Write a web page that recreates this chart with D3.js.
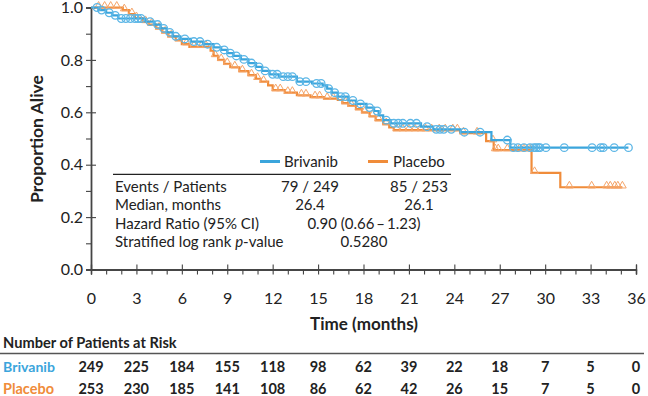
<!DOCTYPE html>
<html>
<head>
<meta charset="utf-8">
<script src="https://cdn.jsdelivr.net/npm/d3@7"></script>
<style>
  body { margin: 0; background: #fff; }
  svg { display: block; font-family: Lato, "Noto Sans", sans-serif; }
</style>
</head>
<body>
<svg id="chart" width="648" height="396"></svg>
<script>
// Kaplan-Meier step points (time in months, proportion alive)
const brivanibTimes = [0, 0.5, 1.0, 1.4, 1.8, 3.6, 4.2, 4.6, 5.0, 5.4, 5.9, 6.6, 7.4, 8.1, 8.6, 9.0, 9.4, 9.9, 10.4, 10.9, 11.3, 11.8, 12.4, 13.6, 14.6, 15.3, 15.6, 15.9, 16.3, 17.0, 17.5, 18.2, 18.7, 19.0, 19.3, 19.8, 21.8, 22.6, 24.4, 26.45, 27.7, 35.5];
const brivanibSurv  = [1.0, 0.99, 0.98, 0.97, 0.958, 0.946, 0.935, 0.92, 0.905, 0.89, 0.88, 0.87, 0.86, 0.848, 0.838, 0.826, 0.815, 0.802, 0.788, 0.773, 0.758, 0.745, 0.736, 0.717, 0.71, 0.703, 0.69, 0.675, 0.66, 0.645, 0.632, 0.618, 0.605, 0.588, 0.57, 0.558, 0.545, 0.535, 0.524, 0.494, 0.465, 0.465];
const placeboTimes  = [0, 2.1, 2.5, 2.9, 3.4, 3.8, 4.3, 4.7, 5.1, 5.6, 6.0, 6.5, 7.9, 8.1, 8.4, 8.8, 9.2, 9.8, 10.4, 10.9, 11.2, 11.7, 12.0, 12.8, 13.6, 14.5, 15.4, 16.3, 16.6, 17.0, 17.5, 17.9, 18.4, 18.8, 19.3, 19.7, 20.0, 24.4, 26.1, 26.6, 29.1, 31.0, 35.1];
const placeboSurv   = [1.0, 0.99, 0.975, 0.96, 0.945, 0.935, 0.92, 0.905, 0.89, 0.875, 0.86, 0.85, 0.835, 0.815, 0.8, 0.785, 0.772, 0.757, 0.742, 0.728, 0.717, 0.703, 0.685, 0.675, 0.665, 0.658, 0.652, 0.647, 0.635, 0.625, 0.612, 0.6, 0.585, 0.57, 0.555, 0.542, 0.532, 0.52, 0.49, 0.456, 0.369, 0.314, 0.314];

// censored observations (months)
const brivanibCensored = [0.4, 0.7, 1.2, 1.6, 2.0, 2.3, 2.6, 2.9, 3.1, 3.3, 3.9, 4.4, 4.8, 5.2, 5.6, 6.2, 6.8, 7.2, 7.7, 8.3, 8.8, 9.2, 9.6, 10.1, 10.6, 11.1, 11.5, 12.0, 12.3, 12.7, 13.0, 13.3, 13.8, 14.2, 14.9, 15.2, 15.7, 16.1, 16.5, 16.8, 17.3, 17.8, 18.4, 18.9, 19.5, 20.0, 20.3, 20.6, 21.1, 21.5, 22.2, 22.8, 23.05, 23.3, 23.8, 24.66, 25.7, 27.5, 27.9, 28.2, 28.6, 29.0, 29.26, 29.4, 29.55, 29.66, 30.05, 31.26, 33.1, 33.67, 33.84, 34.56, 35.5];
const placeboCensored  = [0.5, 0.9, 1.3, 1.7, 2.2, 2.7, 3.0, 3.6, 4.0, 4.5, 4.9, 5.3, 5.8, 6.3, 6.8, 7.3, 7.6, 8.2, 8.6, 9.0, 9.5, 10.0, 10.6, 11.0, 11.4, 12.2, 12.5, 13.0, 13.3, 13.9, 14.2, 14.8, 15.1, 15.6, 16.0, 16.8, 17.2, 17.7, 18.1, 18.6, 19.0, 19.5, 20.2, 20.6, 21.0, 21.4, 21.8, 22.1, 22.5, 23.0, 23.4, 23.9, 24.2, 24.6, 25.5, 26.55, 26.7, 26.9, 27.5, 28.3, 28.6, 29.0, 29.3, 31.6, 33.07, 34.06, 34.3, 34.6, 34.8, 35.1];

// ticks and risk table
const xTicks = [0, 3, 6, 9, 12, 15, 18, 21, 24, 27, 30, 33, 36];
const yTicks = [0, 0.2, 0.4, 0.6, 0.8, 1.0];
const brivanibAtRisk = [249, 225, 184, 155, 118, 98, 62, 39, 22, 18, 7, 5, 0];
const placeboAtRisk  = [253, 230, 185, 141, 108, 86, 62, 42, 26, 15, 7, 5, 0];

const statLabels = ['Events / Patients', 'Median, months', 'Hazard Ratio (95% CI)', 'Stratified log rank '];
const brivanibStats = ['79 / 249', '26.4'];
const placeboStats  = ['85 / 253', '26.1'];
const sharedStats   = ['0.90 (0.66\u2009\u2013\u20091.23)', '0.5280'];

const blue = '#3ba5dc', orange = '#f08c3a';
const blueMark = '#5cb6e6', orangeMark = '#f5a56a';

const svg = d3.select('#chart');
const x = d3.scaleLinear().domain([0, 36]).range([91, 636]);
const y = d3.scaleLinear().domain([0, 1]).range([269.5, 7.5]);

// scale a text's font so that it takes the given width (the reference uses a narrow font)
function fitWidth(sel, w) {
  const fs = parseFloat(sel.attr('font-size'));
  const len = sel.node().getComputedTextLength();
  if (len > 0) sel.attr('font-size', fs * w / len);
  return sel;
}

// axes: major ticks cross the axis line, minor ticks point outward
const axisColor = '#444';
const yMinor = [0.1, 0.3, 0.5, 0.7, 0.9];
const xMinor = d3.range(0, 37).filter(d => d % 3 !== 0);

svg.append('g').attr('transform', 'translate(' + x(0) + ',0)')
  .call(d3.axisLeft(y).tickValues(yTicks).tickSize(5).tickPadding(3).tickFormat(d3.format('.1f')));
svg.append('g').attr('transform', 'translate(' + x(0) + ',0)')
  .call(d3.axisRight(y).tickValues(yTicks).tickSize(5).tickFormat(''));
svg.append('g').attr('transform', 'translate(' + x(0) + ',0)')
  .call(d3.axisLeft(y).tickValues(yMinor).tickSize(5).tickFormat(''));

svg.append('g').attr('transform', 'translate(0,' + y(0) + ')')
  .call(d3.axisBottom(x).tickValues(xTicks).tickSize(5).tickPadding(18));
svg.append('g').attr('transform', 'translate(0,' + y(0) + ')')
  .call(d3.axisTop(x).tickValues(xTicks).tickSize(5).tickFormat(''));
svg.append('g').attr('transform', 'translate(0,' + y(0) + ')')
  .call(d3.axisBottom(x).tickValues(xMinor).tickSize(5).tickFormat(''));

svg.selectAll('.domain').attr('stroke', axisColor).attr('stroke-width', 1.3);
svg.selectAll('.tick line').attr('stroke', axisColor).attr('stroke-width', 1.1);
svg.selectAll('.tick text').attr('font-size', 16).attr('fill', '#222')
  .attr('font-family', 'Lato, "Noto Sans", sans-serif');

// axis titles
fitWidth(svg.append('text')
  .attr('transform', 'translate(43,139) rotate(-90)')
  .attr('text-anchor', 'middle')
  .attr('font-size', 15).attr('font-weight', 'bold').attr('fill', '#222')
  .text('Proportion Alive'), 128);
fitWidth(svg.append('text')
  .attr('x', 364).attr('y', 330)
  .attr('text-anchor', 'middle')
  .attr('font-size', 15).attr('font-weight', 'bold').attr('fill', '#222')
  .text('Time (months)'), 108);

// survival curves
function stepAt(times, surv, t) {
  const i = d3.bisectRight(times, t) - 1;
  return surv[Math.max(0, i)];
}

const line = d3.line().x(d => x(d[0])).y(d => y(d[1])).curve(d3.curveStepAfter);

function drawCensored(times, surv, cens, color, shape) {
  const g = svg.append('g');
  cens.forEach(t => {
    const cx = x(t), cy = y(stepAt(times, surv, t));
    if (shape === 'circle') {
      g.append('circle').attr('cx', cx).attr('cy', cy).attr('r', 3.8)
        .attr('fill', 'none').attr('stroke', color).attr('stroke-width', 1.3);
    } else {
      g.append('path')
        .attr('d', d3.symbol().type(d3.symbolTriangle).size(26)())
        .attr('transform', 'translate(' + cx + ',' + (cy - 1.5) + ')')
        .attr('fill', 'none').attr('stroke', color).attr('stroke-width', 1);
    }
  });
}

svg.append('path').datum(d3.zip(placeboTimes, placeboSurv))
  .attr('d', line).attr('fill', 'none').attr('stroke', orange).attr('stroke-width', 2.2);
drawCensored(placeboTimes, placeboSurv, placeboCensored, orangeMark, 'triangle');

svg.append('path').datum(d3.zip(brivanibTimes, brivanibSurv))
  .attr('d', line).attr('fill', 'none').attr('stroke', blue).attr('stroke-width', 2.2);
drawCensored(brivanibTimes, brivanibSurv, brivanibCensored, blueMark, 'circle');

// legend + statistics box
const lg = svg.append('g').attr('font-size', 15).attr('fill', '#222');
lg.append('line').attr('x1', 260).attr('x2', 280).attr('y1', 161.5).attr('y2', 161.5)
  .attr('stroke', blue).attr('stroke-width', 3);
lg.append('text').attr('x', 284).attr('y', 167).text('Brivanib');
lg.append('line').attr('x1', 368).attr('x2', 388).attr('y1', 161.5).attr('y2', 161.5)
  .attr('stroke', orange).attr('stroke-width', 3);
lg.append('text').attr('x', 393).attr('y', 167).text('Placebo');
lg.append('line').attr('x1', 113).attr('x2', 451).attr('y1', 174.3).attr('y2', 174.3)
  .attr('stroke', '#222').attr('stroke-width', 1.2);

const rowY = [192, 210, 228.5, 247];
statLabels.forEach((s, i) => {
  const t = lg.append('text').attr('x', 115).attr('y', rowY[i]).text(s);
  if (i === 3) {
    t.append('tspan').attr('font-style', 'italic').text('p');
    t.append('tspan').text('-value');
  }
});
brivanibStats.forEach((s, i) => {
  lg.append('text').attr('x', 310).attr('y', rowY[i]).attr('text-anchor', 'middle').text(s);
});
placeboStats.forEach((s, i) => {
  lg.append('text').attr('x', 419).attr('y', rowY[i]).attr('text-anchor', 'middle').text(s);
});
sharedStats.forEach((s, i) => {
  lg.append('text').attr('x', 364).attr('y', rowY[i + 2]).attr('text-anchor', 'middle').text(s);
});

// number at risk table
const rt = svg.append('g').attr('font-size', 14.5).attr('font-weight', 'bold').attr('fill', '#222');
fitWidth(rt.append('text').attr('x', 3).attr('y', 348).attr('font-size', 14.5)
  .text('Number of Patients at Risk'), 174);
rt.append('line').attr('x1', 0).attr('x2', 644).attr('y1', 353.5).attr('y2', 353.5)
  .attr('stroke', '#555').attr('stroke-width', 1.5);
fitWidth(rt.append('text').attr('x', 3).attr('y', 371.5).attr('font-size', 14.5)
  .attr('fill', blue).text('Brivanib'), 52);
fitWidth(rt.append('text').attr('x', 3).attr('y', 393.5).attr('font-size', 14.5)
  .attr('fill', orange).text('Placebo'), 51);
rt.selectAll('.nb').data(brivanibAtRisk).enter().append('text')
  .attr('x', (d, i) => x(xTicks[i])).attr('y', 371.5).attr('text-anchor', 'middle').text(d => d);
rt.selectAll('.np').data(placeboAtRisk).enter().append('text')
  .attr('x', (d, i) => x(xTicks[i])).attr('y', 393.5).attr('text-anchor', 'middle').text(d => d);
</script>
</body>
</html>
